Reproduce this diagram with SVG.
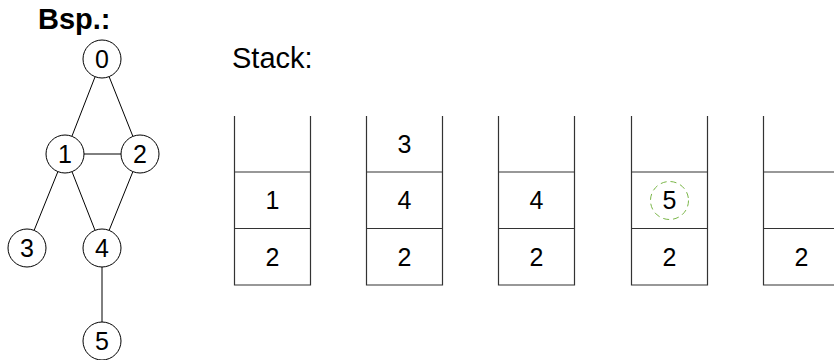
<svg xmlns="http://www.w3.org/2000/svg" width="834" height="360" viewBox="0 0 834 360">
<style>
.n{fill:#fff;stroke:#000;stroke-width:1}
.e{stroke:#000;stroke-width:1;fill:none}
.s{stroke:#333;stroke-width:1.2;fill:none}
.t{font-family:"Liberation Sans",Arial,sans-serif;font-size:25px;fill:#000;text-anchor:middle}
.h{font-family:"Liberation Sans",Arial,sans-serif;font-size:29px;fill:#000}
</style>
<rect width="834" height="360" fill="#fff"/>
<text class="h" x="38" y="29" font-weight="bold" font-size="28">Bsp.:</text>
<text class="h" x="232" y="68">Stack:</text>
<g id="connectors">
<line class="e" x1="95.1" y1="76.7" x2="71.9" y2="136.3"/>
<line class="e" x1="109.1" y1="76.6" x2="132.9" y2="136.4"/>
<line class="e" x1="84" y1="154" x2="121" y2="154"/>
<line class="e" x1="57.9" y1="171.6" x2="34.1" y2="230.4"/>
<line class="e" x1="72" y1="171.7" x2="95" y2="230.3"/>
<line class="e" x1="132.9" y1="171.6" x2="109.1" y2="230.4"/>
<line class="e" x1="102" y1="267" x2="102" y2="322"/>
</g>
<g id="node0"><circle class="n" cx="102" cy="59" r="19"/><text class="t" x="102" y="67.5">0</text></g>
<g id="node1"><circle class="n" cx="65" cy="154" r="19"/><text class="t" x="65" y="162.5">1</text></g>
<g id="node2"><circle class="n" cx="140" cy="154" r="19"/><text class="t" x="140" y="162.5">2</text></g>
<g id="node3"><circle class="n" cx="27" cy="248" r="19"/><text class="t" x="27" y="256.5">3</text></g>
<g id="node4"><circle class="n" cx="102" cy="248" r="19"/><text class="t" x="102" y="256.5">4</text></g>
<g id="node5"><circle class="n" cx="102" cy="341" r="19"/><text class="t" x="102" y="349.5">5</text></g>
<g id="stack1">
<path class="s" d="M234.5 116V285H310.5V116M234.5 172H310.5M234.5 228.5H310.5"/>
<text class="t" x="272.5" y="209">1</text><text class="t" x="272.5" y="265.5">2</text>
</g>
<g id="stack2">
<path class="s" d="M366.5 116V285H442.5V116M366.5 172H442.5M366.5 228.5H442.5"/>
<text class="t" x="404.5" y="152.5">3</text><text class="t" x="404.5" y="209">4</text><text class="t" x="404.5" y="265.5">2</text>
</g>
<g id="stack3">
<path class="s" d="M498.5 116V285H574.5V116M498.5 172H574.5M498.5 228.5H574.5"/>
<text class="t" x="536.5" y="209">4</text><text class="t" x="536.5" y="265.5">2</text>
</g>
<g id="stack4">
<path class="s" d="M631.5 116V285H707.5V116M631.5 172H707.5M631.5 228.5H707.5"/>
<circle cx="669.5" cy="200.5" r="19" fill="none" stroke="#7ab648" stroke-width="1" stroke-dasharray="6 4"/>
<text class="t" x="669.5" y="209">5</text><text class="t" x="669.5" y="265.5">2</text>
</g>
<g id="stack5">
<path class="s" d="M763.5 116V285H839.5V116M763.5 172H839.5M763.5 228.5H839.5"/>
<text class="t" x="801.5" y="265.5">2</text>
</g>
</svg>
